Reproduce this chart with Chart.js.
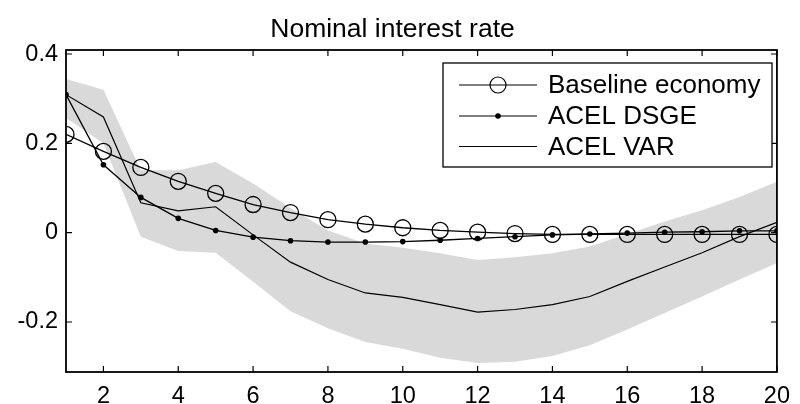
<!DOCTYPE html>
<html>
<head>
<meta charset="utf-8">
<script src="https://cdn.jsdelivr.net/npm/chart.js@4.4.1/dist/chart.umd.min.js"></script>
<style>
  html, body { margin: 0; padding: 0; background: #fff; }
  #wrap { position: relative; width: 800px; height: 404px; }
</style>
</head>
<body>
<div id="wrap"><canvas id="c" width="800" height="404"></canvas></div>
<script>
// ---- data ----
const titleText = 'Nominal interest rate';
const horizons = [1, 2, 3, 4, 5, 6, 7, 8, 9, 10, 11, 12, 13, 14, 15, 16, 17, 18, 19, 20];
const baselineEconomy = [0.220, 0.182, 0.146, 0.115, 0.088, 0.063, 0.045, 0.029, 0.019, 0.011, 0.005, 0.001, -0.002, -0.004, -0.004, -0.004, -0.004, -0.004, -0.004, -0.004];
const acelDSGE = [0.309, 0.152, 0.079, 0.032, 0.005, -0.010, -0.018, -0.021, -0.021, -0.020, -0.017, -0.013, -0.009, -0.005, -0.003, -0.001, 0.001, 0.002, 0.004, 0.004];
const acelVAR = [0.309, 0.259, 0.067, 0.049, 0.058, -0.005, -0.066, -0.105, -0.135, -0.145, -0.161, -0.178, -0.172, -0.161, -0.143, -0.109, -0.077, -0.045, -0.009, 0.023];
const varUpper = [0.344, 0.320, 0.140, 0.140, 0.158, 0.110, 0.055, 0.005, -0.024, -0.034, -0.046, -0.061, -0.055, -0.046, -0.031, -0.003, 0.025, 0.050, 0.080, 0.114];
const varLower = [0.257, 0.200, -0.009, -0.041, -0.045, -0.110, -0.176, -0.214, -0.245, -0.260, -0.280, -0.292, -0.289, -0.276, -0.252, -0.217, -0.180, -0.143, -0.105, -0.068];
const seriesNames = ['Baseline economy', 'ACEL DSGE', 'ACEL VAR'];
const xTickValues = [2, 4, 6, 8, 10, 12, 14, 16, 18, 20];
const yTickValues = [-0.2, 0, 0.2, 0.4];
const yTickLabels = ['-0.2', '0', '0.2', '0.4'];

const FONT = "'Liberation Sans', Arial, Helvetica, sans-serif";
const pts = arr => horizons.map((h, i) => ({ x: h, y: arr[i] }));

const boxPlugin = {
  id: 'matlabBox',
  afterDatasetsDraw(chart) {
    const { ctx, chartArea: a, scales } = chart;
    const L = 6;
    ctx.save();
    ctx.strokeStyle = '#000';
    ctx.lineWidth = 1.8;
    ctx.strokeRect(a.left, a.top, a.right - a.left, a.bottom - a.top);
    ctx.lineWidth = 1.2;
    ctx.beginPath();
    xTickValues.forEach(v => {
      const px = scales.x.getPixelForValue(v);
      ctx.moveTo(px, a.bottom); ctx.lineTo(px, a.bottom - L);
      ctx.moveTo(px, a.top); ctx.lineTo(px, a.top + L);
    });
    yTickValues.forEach(v => {
      const py = scales.y.getPixelForValue(v);
      ctx.moveTo(a.left, py); ctx.lineTo(a.left + L, py);
      ctx.moveTo(a.right, py); ctx.lineTo(a.right - L, py);
    });
    ctx.stroke();
    ctx.restore();
  },
  afterDraw(chart) {
    const { ctx } = chart;
    const bx = 443, by = 63, bw = 329, bh = 104;
    ctx.save();
    ctx.fillStyle = '#fff';
    ctx.fillRect(bx, by, bw, bh);
    ctx.strokeStyle = '#000';
    ctx.lineWidth = 1.3;
    ctx.strokeRect(bx, by, bw, bh);
    const rows = [85, 116, 146.5];
    const ds = chart.data.datasets;
    for (let i = 0; i < 3; i++) {
      const y = rows[i];
      ctx.beginPath();
      ctx.lineWidth = 1.2;
      ctx.moveTo(459, y); ctx.lineTo(537, y);
      ctx.stroke();
      const d = ds[i];
      if (d.pointRadius > 0) {
        ctx.beginPath();
        ctx.arc(498, y, d.pointRadius, 0, Math.PI * 2);
        if (d.pointBackgroundColor !== 'rgba(0,0,0,0)') {
          ctx.fillStyle = d.pointBackgroundColor; ctx.fill();
        } else {
          ctx.lineWidth = 1.2; ctx.stroke();
        }
      }
      ctx.fillStyle = '#000';
      ctx.font = '26px ' + FONT;
      ctx.textAlign = 'left';
      ctx.textBaseline = 'middle';
      ctx.fillText(d.label, 548, y + 1);
    }
    ctx.restore();
  }
};

new Chart(document.getElementById('c'), {
  type: 'line',
  data: {
    datasets: [
      { label: seriesNames[0], data: pts(baselineEconomy), borderColor: '#000', borderWidth: 1.3,
        pointRadius: 8, pointHoverRadius: 8, pointBorderWidth: 1.3, pointBorderColor: '#000',
        pointBackgroundColor: 'rgba(0,0,0,0)', fill: false, tension: 0, order: 0 },
      { label: seriesNames[1], data: pts(acelDSGE), borderColor: '#000', borderWidth: 1.3,
        pointRadius: 2.8, pointHoverRadius: 2.8, pointBorderWidth: 0, pointBorderColor: '#000',
        pointBackgroundColor: '#000', fill: false, tension: 0, order: 1 },
      { label: seriesNames[2], data: pts(acelVAR), borderColor: '#000', borderWidth: 1.2,
        pointRadius: 0, fill: false, tension: 0, order: 2 },
      { label: 'upper', data: pts(varUpper), borderWidth: 0, borderColor: 'rgba(0,0,0,0)',
        pointRadius: 0, fill: '+1', backgroundColor: '#d9d9d9', tension: 0, order: 10 },
      { label: 'lower', data: pts(varLower), borderWidth: 0, borderColor: 'rgba(0,0,0,0)',
        pointRadius: 0, fill: false, tension: 0, order: 11 }
    ]
  },
  options: {
    responsive: false,
    animation: false,
    events: [],
    layout: { padding: { left: 0, right: 15, top: 0, bottom: 0 } },
    plugins: {
      legend: { display: false },
      tooltip: { enabled: false },
      title: {
        display: true, text: titleText, color: '#000',
        font: { family: FONT, size: 26.5, weight: 'normal' },
        padding: { top: 14, bottom: 4.2 }
      }
    },
    scales: {
      x: {
        type: 'linear', min: 1, max: 20,
        grid: { display: false, drawTicks: false },
        border: { display: false },
        afterBuildTicks: s => { s.ticks = xTickValues.map(v => ({ value: v })); },
        afterFit: s => { s.height = 32; },
        ticks: { color: '#000', font: { family: FONT, size: 23.5 }, padding: 10, maxRotation: 0,
                 callback: v => String(v) }
      },
      y: {
        type: 'linear', min: -0.312, max: 0.409,
        grid: { display: false, drawTicks: false },
        border: { display: false },
        afterBuildTicks: s => { s.ticks = yTickValues.map(v => ({ value: v })); },
        afterFit: s => { s.width = 66; },
        ticks: { color: '#000', font: { family: FONT, size: 23.5 }, padding: 8,
                 callback: v => yTickLabels[yTickValues.indexOf(v)] ?? '' }
      }
    }
  },
  plugins: [boxPlugin]
});
</script>
</body>
</html>
